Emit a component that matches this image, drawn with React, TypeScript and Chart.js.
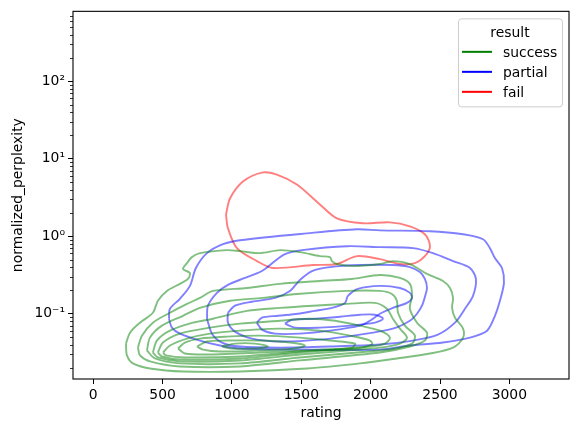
import React, { useEffect, useRef } from "react";
import { Chart, registerables } from "chart.js";

Chart.register(...registerables);

type Pt = [number, number];

// ---- labels / ticks ----
const groupNames = ["success", "partial", "fail"];
const legendTitle = "result";
const xTitle = "rating";
const yTitle = "normalized_perplexity";
const xTickValues = [0, 500, 1000, 1500, 2000, 2500, 3000];
const yTickValues = [0.1, 1, 10, 100];
const yTickLabels = ["10⁻¹", "10⁰", "10¹", "10²"];
const xRange = [-146, 3430];
const yRange = [0.0144, 796];

// ---- KDE contour levels: [rating, normalized_perplexity] ----
const success1: Pt[] = [
  [236, 0.0412], [265, 0.057], [337, 0.0767], [430, 0.103], [466, 0.147], [531, 0.197],
  [625, 0.243], [683, 0.281], [697, 0.336], [647, 0.377], [676, 0.451], [712, 0.538],
  [769, 0.605], [964, 0.662], [1058, 0.642], [1202, 0.605], [1346, 0.662], [1490, 0.624],
  [1635, 0.554], [1707, 0.538], [1721, 0.478], [1757, 0.438], [1872, 0.412], [2067, 0.438],
  [2160, 0.478], [2283, 0.438], [2406, 0.326], [2521, 0.265], [2572, 0.215], [2594, 0.16],
  [2587, 0.119], [2608, 0.0889], [2666, 0.0643], [2666, 0.0492], [2594, 0.0366], [2428, 0.0307],
  [2189, 0.0265], [1923, 0.0229], [1540, 0.0197], [1058, 0.018], [647, 0.018], [409, 0.0197],
  [286, 0.0229], [243, 0.029],
];
const success2: Pt[] = [
  [322, 0.0366], [351, 0.0522], [430, 0.0767], [553, 0.103], [676, 0.134], [769, 0.16],
  [863, 0.197], [1108, 0.215], [1346, 0.243], [1635, 0.265], [1865, 0.281], [2067, 0.316],
  [2211, 0.29], [2283, 0.243], [2298, 0.17], [2283, 0.116], [2334, 0.0767], [2406, 0.057],
  [2391, 0.0451], [2283, 0.0378], [2067, 0.0316], [1490, 0.025], [1058, 0.0209], [625, 0.0209],
  [409, 0.0243], [337, 0.029],
];
const success3: Pt[] = [
  [387, 0.0336], [409, 0.0492], [495, 0.0702], [647, 0.0942], [769, 0.119], [986, 0.147],
  [1223, 0.16], [1468, 0.18], [1829, 0.197], [2067, 0.197], [2153, 0.18], [2189, 0.147],
  [2197, 0.103], [2247, 0.0702], [2319, 0.0522], [2298, 0.0412], [2175, 0.0356], [2067, 0.0336],
  [1490, 0.0273], [1058, 0.0229], [625, 0.0229], [445, 0.0265],
];
const success4: Pt[] = [
  [430, 0.0316], [459, 0.0451], [553, 0.0605], [719, 0.0767], [863, 0.0863], [1108, 0.109],
  [1346, 0.119], [1584, 0.127], [1829, 0.134], [2031, 0.138], [2117, 0.116], [2160, 0.0863],
  [2211, 0.0643], [2262, 0.0492], [2211, 0.0412], [2067, 0.0366], [1490, 0.0298], [1058, 0.025],
  [625, 0.0243], [466, 0.0273],
];
const success5: Pt[] = [
  [466, 0.0316], [503, 0.0425], [625, 0.0554], [841, 0.0662], [1058, 0.0745], [1346, 0.0813],
  [1562, 0.0863], [1743, 0.0813], [1923, 0.0702], [2067, 0.0605], [2139, 0.0492], [2103, 0.0412],
  [1995, 0.0378], [1490, 0.0316], [1058, 0.0265], [625, 0.0257], [495, 0.0281],
];
const success6: Pt[] = [
  [503, 0.0316], [553, 0.0389], [676, 0.0478], [841, 0.0554], [1058, 0.0605], [1346, 0.0643],
  [1635, 0.0605], [1851, 0.0522], [1995, 0.0451], [2010, 0.0401], [1887, 0.0356], [1490, 0.0326],
  [1058, 0.0281], [661, 0.0273], [524, 0.029],
];
const success7: Pt[] = [
  [611, 0.0356], [661, 0.0425], [769, 0.0478], [964, 0.0507], [1202, 0.0522], [1490, 0.0492],
  [1707, 0.0451], [1887, 0.0412], [1865, 0.0366], [1635, 0.0345], [1202, 0.0316], [841, 0.0298],
  [661, 0.0307],
];
const success8: Pt[] = [
  [748, 0.0378], [820, 0.0438], [964, 0.0451], [1202, 0.0451], [1418, 0.0425], [1526, 0.0389],
  [1454, 0.0356], [1202, 0.0336], [914, 0.0326], [791, 0.0345],
];
const success9: Pt[] = [
  [928, 0.0378], [1022, 0.0412], [1166, 0.0412], [1260, 0.0378], [1166, 0.0356], [1000, 0.0356],
];

const partial1: Pt[] = [
  [546, 0.0863], [567, 0.0662], [625, 0.0554], [769, 0.0451], [914, 0.0389], [1058, 0.0356],
  [1490, 0.0345], [2067, 0.0345], [2283, 0.0389], [2521, 0.0425], [2716, 0.0492], [2839, 0.0605],
  [2896, 0.0942], [2932, 0.147], [2961, 0.25], [2947, 0.389], [2896, 0.522], [2860, 0.702],
  [2810, 0.915], [2666, 1.06], [2428, 1.16], [2067, 1.19], [1901, 1.23], [1540, 1.09],
  [1058, 0.889], [935, 0.79], [820, 0.605], [740, 0.389], [697, 0.229], [625, 0.156], [553, 0.116],
];
const partial2: Pt[] = [
  [820, 0.0863], [827, 0.127], [892, 0.186], [971, 0.236], [1094, 0.29], [1216, 0.356],
  [1310, 0.478], [1382, 0.588], [1505, 0.662], [1829, 0.744], [2067, 0.723], [2305, 0.702],
  [2449, 0.605], [2594, 0.478], [2716, 0.389], [2759, 0.281], [2738, 0.17], [2680, 0.116],
  [2608, 0.0767], [2485, 0.0538], [2305, 0.0451], [2067, 0.0401], [1707, 0.0378], [1346, 0.0366],
  [1058, 0.0378], [928, 0.0425], [856, 0.0554],
];
const partial3: Pt[] = [
  [971, 0.103], [1022, 0.127], [1144, 0.143], [1310, 0.16], [1418, 0.197], [1490, 0.273],
  [1577, 0.356], [1707, 0.4], [1923, 0.425], [2160, 0.425], [2283, 0.4], [2355, 0.345],
  [2391, 0.281], [2406, 0.215], [2391, 0.165], [2370, 0.127], [2334, 0.1], [2283, 0.0813],
  [2160, 0.0643], [1923, 0.0538], [1635, 0.0464], [1346, 0.0438], [1144, 0.0478], [1022, 0.0588],
  [971, 0.0767],
];
const partial4: Pt[] = [
  [1180, 0.0767], [1216, 0.0889], [1332, 0.0942], [1476, 0.1], [1598, 0.109], [1721, 0.119],
  [1815, 0.138], [1836, 0.17], [1908, 0.209], [2067, 0.229], [2211, 0.215], [2283, 0.186],
  [2298, 0.16], [2262, 0.138], [2160, 0.119], [2067, 0.1], [1995, 0.0813], [1923, 0.0702],
  [1707, 0.0605], [1490, 0.0554], [1310, 0.0554], [1216, 0.0624],
];
const partial5: Pt[] = [
  [1382, 0.0745], [1433, 0.0838], [1598, 0.0863], [1779, 0.0916], [1923, 0.0971], [2031, 0.0971],
  [2089, 0.0863], [2031, 0.0767], [1851, 0.0702], [1635, 0.0662], [1454, 0.0662],
];

const fail1: Pt[] = [
  [957, 1.91], [986, 3.07], [1079, 5.07], [1216, 6.62], [1324, 6.24], [1468, 4.64],
  [1634, 2.57], [1757, 1.7], [1945, 1.47], [2139, 1.51], [2283, 1.34], [2391, 1.06],
  [2428, 0.744], [2391, 0.554], [2319, 0.451], [2211, 0.438], [2067, 0.507], [1901, 0.554],
  [1757, 0.438], [1584, 0.425], [1296, 0.389], [1180, 0.478], [1036, 0.702], [971, 1.27],
];

const successLevels = [success1, success2, success3, success4, success5, success6, success7, success8, success9];
const partialLevels = [partial1, partial2, partial3, partial4, partial5];
const failLevels = [fail1];
const groupLevels = [successLevels, partialLevels, failLevels];

// ---- styles ----
const groupColors = ["#008000", "#0000ff", "#ff0000"];
const contourColors = ["rgba(0,128,0,0.5)", "rgba(0,0,255,0.5)", "rgba(255,0,0,0.5)"];
const FONT = "DejaVu Sans";
const FS = 13.9;

const overlayPlugin = {
  id: "mplOverlay",
  afterDraw(chart: any) {
    const { ctx, chartArea: a, scales } = chart;
    ctx.save();
    // minor log ticks
    const ys = scales.y;
    ctx.strokeStyle = "#000";
    ctx.lineWidth = 0.8;
    for (let e = -3; e <= 3; e++) {
      for (let m = 2; m <= 9; m++) {
        const v = m * Math.pow(10, e);
        if (v < ys.min || v > ys.max) continue;
        const py = Math.round(ys.getPixelForValue(v)) + 0.5;
        ctx.beginPath();
        ctx.moveTo(a.left - 3, py);
        ctx.lineTo(a.left, py);
        ctx.stroke();
      }
    }
    // frame
    ctx.lineWidth = 1.1;
    ctx.strokeStyle = "#000";
    ctx.strokeRect(a.left, a.top, a.right - a.left, a.bottom - a.top);

    // legend
    const bx = a.right - 111;
    const by = a.top + 7;
    const bw = 104;
    const bh = 88;
    ctx.beginPath();
    if ((ctx as any).roundRect) (ctx as any).roundRect(bx + 0.5, by + 0.5, bw, bh, 3);
    else ctx.rect(bx + 0.5, by + 0.5, bw, bh);
    ctx.fillStyle = "rgba(255,255,255,0.8)";
    ctx.fill();
    ctx.strokeStyle = "#cccccc";
    ctx.lineWidth = 1;
    ctx.stroke();

    ctx.font = `${FS}px "${FONT}"`;
    ctx.fillStyle = "#000";
    ctx.textAlign = "center";
    ctx.textBaseline = "alphabetic";
    ctx.fillText(legendTitle, bx + bw / 2, by + 18.5);
    ctx.textAlign = "left";
    groupNames.forEach((name, i) => {
      const ly = by + 33.5 + i * 20;
      ctx.strokeStyle = groupColors[i];
      ctx.lineWidth = 2;
      ctx.beginPath();
      ctx.moveTo(bx + 4, ly);
      ctx.lineTo(bx + 34, ly);
      ctx.stroke();
      ctx.fillStyle = "#000";
      ctx.fillText(name, bx + 45, ly + 4.7);
    });
    ctx.restore();
  },
};

export default function App() {
  const canvasRef = useRef<HTMLCanvasElement | null>(null);

  useEffect(() => {
    document.body.style.margin = "0";
    const canvas = canvasRef.current;
    if (!canvas) return;

    const datasets: any[] = [];
    groupLevels.forEach((levels, g) => {
      levels.forEach((pts, k) => {
        const closed = [...pts, pts[0]];
        datasets.push({
          label: `${groupNames[g]} ${k + 1}`,
          data: closed.map(([x, y]) => ({ x, y })),
          showLine: true,
          pointRadius: 0,
          pointHoverRadius: 0,
          borderColor: contourColors[g],
          backgroundColor: contourColors[g],
          borderWidth: 1.9,
          tension: 0.3,
          fill: false,
        });
      });
    });

    Chart.defaults.font.family = FONT;
    Chart.defaults.font.size = FS;
    Chart.defaults.color = "#000";

    const chart = new Chart(canvas, {
      type: "scatter",
      data: { datasets },
      plugins: [overlayPlugin],
      options: {
        animation: false,
        responsive: false,
        events: [],
        layout: { padding: { top: 9, right: 9, left: 0, bottom: 0 } },
        plugins: { legend: { display: false }, tooltip: { enabled: false } },
        scales: {
          x: {
            type: "linear",
            min: xRange[0],
            max: xRange[1],
            border: { display: false },
            grid: { display: true, drawOnChartArea: false, drawTicks: true, tickLength: 5, tickColor: "#000", tickWidth: 1 },
            ticks: {
              padding: 3,
              color: "#000",
              font: { family: FONT, size: FS },
              maxRotation: 0,
              autoSkip: false,
              callback: (v: any) => String(v),
            },
            afterBuildTicks: (s: any) => {
              s.ticks = xTickValues.map((v) => ({ value: v }));
            },
            afterFit: (s: any) => {
              s.height = 53;
            },
            title: {
              display: true,
              text: xTitle,
              color: "#000",
              font: { family: FONT, size: FS },
              padding: { top: 0, bottom: 10.7 },
            },
          },
          y: {
            type: "logarithmic",
            min: yRange[0],
            max: yRange[1],
            border: { display: false },
            grid: { display: true, drawOnChartArea: false, drawTicks: true, tickLength: 5, tickColor: "#000", tickWidth: 1 },
            ticks: {
              padding: 3,
              color: "#000",
              font: { family: FONT, size: FS },
              autoSkip: false,
              callback: (_v: any, i: number) => yTickLabels[i],
            },
            afterBuildTicks: (s: any) => {
              s.ticks = yTickValues.map((v) => ({ value: v }));
            },
            afterFit: (s: any) => {
              s.width = 73;
            },
            title: {
              display: true,
              text: yTitle,
              color: "#000",
              font: { family: FONT, size: FS },
              padding: { top: 9.7, bottom: 0 },
            },
          },
        },
      } as any,
    });

    return () => chart.destroy();
  }, []);

  return (
    <div style={{ width: 578, height: 432 }}>
      <canvas ref={canvasRef} width={578} height={432} style={{ display: "block", width: 578, height: 432 }} />
    </div>
  );
}
